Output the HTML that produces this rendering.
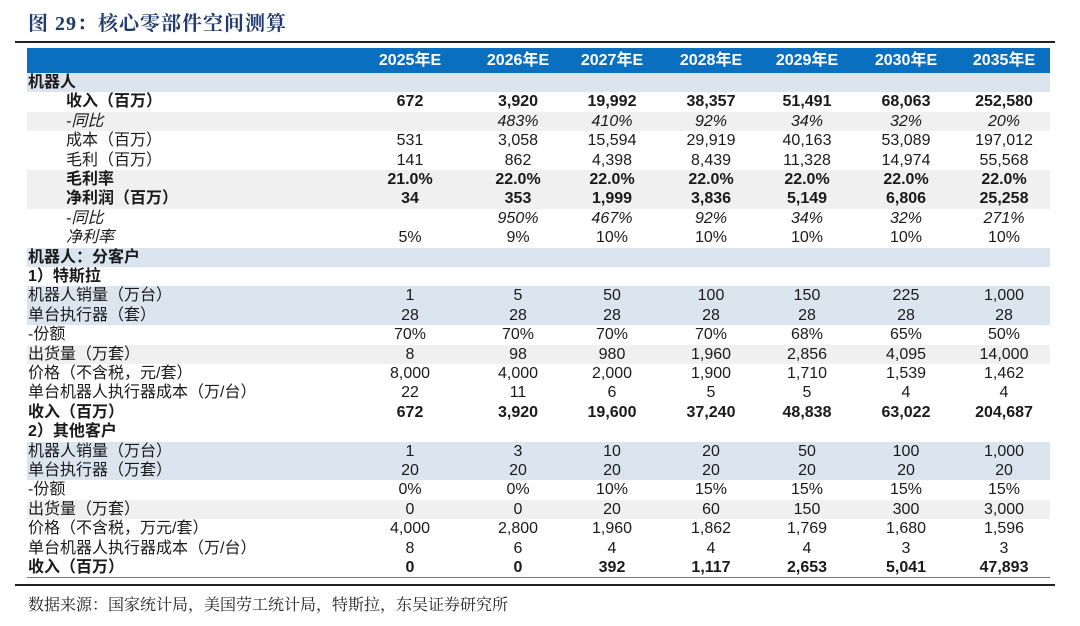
<!DOCTYPE html>
<html><head><meta charset="utf-8">
<style>
body{margin:0;width:1080px;height:626px;background:#fff;position:relative;overflow:hidden;font-family:"Liberation Sans","Noto Sans CJK SC",sans-serif;color:#1a1a1a}
#title{position:absolute;left:28px;top:7px;font-family:"Liberation Serif","Noto Serif CJK SC",serif;font-size:20px;font-weight:bold;color:#1f3a6e;letter-spacing:1px}
#tline{position:absolute;left:15px;top:41px;width:1040px;height:2px;background:#222}
#hdr{position:absolute;left:27px;top:48px;width:1023px;height:25px;background:#0b6fbf}
.h{position:absolute;top:0;height:25px;line-height:25px;width:96px;margin-left:-48px;text-align:center;color:#fff;font-weight:bold;font-size:16px}
.row{position:absolute;left:27px;width:1023px;height:19.4px;line-height:19.4px;font-size:16px}
.lab{position:absolute;left:1px;white-space:nowrap}
.v{position:absolute;width:96px;margin-left:-48px;text-align:center;top:0}
#bline{position:absolute;left:15px;top:584px;width:1040px;height:2px;background:#222}
#foot{position:absolute;left:28px;top:592px;font-family:"Liberation Serif","Noto Serif CJK SC",serif;font-size:16px;color:#222}
</style></head><body>
<div id="title">图 29：核心零部件空间测算</div>
<div id="tline"></div>
<div id="hdr"></div>
<div id="rows"></div>
<div id="bline"></div>
<div id="foot">数据来源：国家统计局，美国劳工统计局，特斯拉，东吴证券研究所</div>
<script>
const years=["2025年E","2026年E","2027年E","2028年E","2029年E","2030年E","2035年E"];
const colX=[383,491,585,684,780,879,977];
const labels=["机器人","收入（百万）","-同比","成本（百万）","毛利（百万）","毛利率","净利润（百万）","-同比","净利率","机器人：分客户","1）特斯拉","机器人销量（万台）","单台执行器（套）","-份额","出货量（万套）","价格（不含税，元/套）","单台机器人执行器成本（万/台）","收入（百万）","2）其他客户","机器人销量（万台）","单台执行器（万套）","-份额","出货量（万套）","价格（不含税，万元/套）","单台机器人执行器成本（万/台）","收入（百万）"];
const values=[
[],
["672","3,920","19,992","38,357","51,491","68,063","252,580"],
["","483%","410%","92%","34%","32%","20%"],
["531","3,058","15,594","29,919","40,163","53,089","197,012"],
["141","862","4,398","8,439","11,328","14,974","55,568"],
["21.0%","22.0%","22.0%","22.0%","22.0%","22.0%","22.0%"],
["34","353","1,999","3,836","5,149","6,806","25,258"],
["","950%","467%","92%","34%","32%","271%"],
["5%","9%","10%","10%","10%","10%","10%"],
[],[],
["1","5","50","100","150","225","1,000"],
["28","28","28","28","28","28","28"],
["70%","70%","70%","70%","68%","65%","50%"],
["8","98","980","1,960","2,856","4,095","14,000"],
["8,000","4,000","2,000","1,900","1,710","1,539","1,462"],
["22","11","6","5","5","4","4"],
["672","3,920","19,600","37,240","48,838","63,022","204,687"],
[],
["1","3","10","20","50","100","1,000"],
["20","20","20","20","20","20","20"],
["0%","0%","10%","15%","15%","15%","15%"],
["0","0","20","60","150","300","3,000"],
["4,000","2,800","1,960","1,862","1,769","1,680","1,596"],
["8","6","4","4","4","3","3"],
["0","0","392","1,117","2,653","5,041","47,893"]
];
const fills="bwgwwggwwbwbbwgwwwwbbwgwww";
const bold=[0,1,5,6,9,10,17,18,25];
const ital=[2,7];
const italLabelOnly=[8];
const indent=[1,2,3,4,5,6,7,8];
const bord=[8,17,25];
const hdr=document.getElementById('hdr');
years.forEach((y,i)=>{const d=document.createElement('div');d.className='h';d.style.left=colX[i]+'px';d.textContent=y;


hdr.appendChild(d);});
const rows=document.getElementById('rows');
const col={b:'#dbe5f0',g:'#f0f0f0',w:'#fff'};
labels.forEach((l,r)=>{const row=document.createElement('div');row.className='row';


row.style.top=(73+r*19.4)+'px';row.style.background=col[fills[r]];
if(bold.includes(r))row.style.fontWeight='bold';
if(ital.includes(r))row.style.fontStyle='italic';
if(bord.includes(r))row.style.borderBottom='1.5px solid #777';
const lb=document.createElement('div');lb.className='lab';lb.textContent=l;


if(indent.includes(r))lb.style.left='39px';
if(italLabelOnly.includes(r))lb.style.fontStyle='italic';
row.appendChild(lb);
(values[r]||[]).forEach((v,i)=>{const c=document.createElement('div');c.className='v';c.style.left=colX[i]+'px';c.textContent=v;


row.appendChild(c);});
rows.appendChild(row);});
</script>
</body></html>
